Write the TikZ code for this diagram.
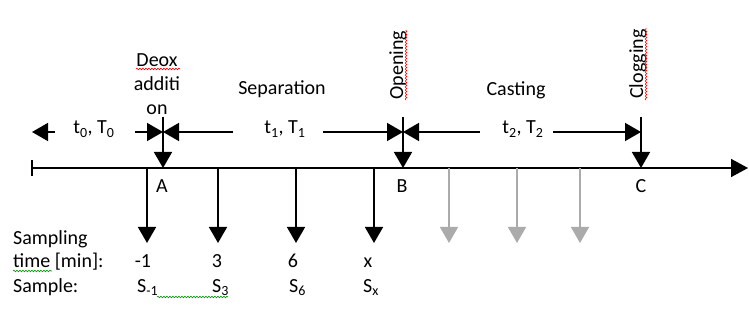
\documentclass[tikz,border=0pt]{standalone}
\usepackage{fontspec}
\setmainfont{Carlito}
\usetikzlibrary{arrows.meta,decorations.pathmorphing}
\begin{document}
\begin{tikzpicture}[x=1pt,y=-1pt,
  txt/.style={font=\fontsize{20}{24}\selectfont, inner sep=0pt},
  blk/.style={line width=1.6pt, -{Triangle[width=18pt,length=16pt]}},
  grayarrow/.style={line width=1.6pt, draw=black!33, -{Triangle[width=18pt,length=16pt,fill=black!33]}},
  event/.style={line width=1.6pt, -{Triangle[width=18pt,length=16pt]}},
  wavy/.style={line width=0.6pt, decorate, decoration={snake, segment length=3pt, amplitude=0.8pt}},
]
\useasboundingbox (0,0) rectangle (749,320);

% time axis
\coordinate (L) at (31,168);
\coordinate (R) at (748,168);
\draw[line width=1.6pt, {Bar[width=16pt]}-{Triangle[width=18pt,length=17pt]}] (L) -- (R);

% events on the axis
\coordinate (A) at (163,168);
\coordinate (B) at (403,168);
\coordinate (C) at (641,168);
\coordinate (Atop) at (163,117);
\coordinate (Btop) at (403,117);
\coordinate (Ctop) at (641,117);
\draw[event] (Atop) -- (A);
\draw[event] (Btop) -- (B);
\draw[event] (Ctop) -- (C);

\node[txt, anchor=base] (labA) at (162,193) {A};
\node[txt, anchor=base] (labB) at (402,193) {B};
\node[txt, anchor=base] (labC) at (641,193) {C};

% event names
\node[txt, align=center] (deox) at (157,84) {Deox\\additi\\on};
\node[txt, anchor=base, rotate=90] (opening) at (403,65) {Opening};
\node[txt, anchor=base, rotate=90] (clogging) at (643,64) {Clogging};
\node[txt, anchor=base] (separation) at (282,95) {Separation};
\node[txt, anchor=base] (casting) at (516,96) {Casting};

% durations between events
\coordinate (Ah) at (163,132);
\coordinate (Bh) at (403,132);
\coordinate (Ch) at (641,132);
\coordinate (h0a) at (55,132);
\coordinate (h0b) at (32,132);
\coordinate (h1) at (135,132);
\coordinate (h2) at (233,132);
\coordinate (h3) at (323,132);
\coordinate (h4) at (480,132);
\coordinate (h5) at (553,132);
\draw[blk] (h0a) -- (h0b);
\draw[blk] (h1) -- (Ah);
\draw[blk] (h2) -- (Ah);
\draw[blk] (h3) -- (Bh);
\draw[blk] (h4) -- (Bh);
\draw[blk] (h5) -- (Ch);
\node[txt, anchor=base] (d0) at (94,134) {t\textsubscript{0}, T\textsubscript{0}};
\node[txt, anchor=base] (d1) at (285,134) {t\textsubscript{1}, T\textsubscript{1}};
\node[txt, anchor=base] (d2) at (523,134) {t\textsubscript{2}, T\textsubscript{2}};

% sampling arrows
\coordinate (s1) at (147,168);
\coordinate (s2) at (218,168);
\coordinate (s3) at (296,168);
\coordinate (s4) at (374,168);
\coordinate (s1e) at (147,243);
\coordinate (s2e) at (218,243);
\coordinate (s3e) at (296,243);
\coordinate (s4e) at (374,243);
\draw[blk] (s1) -- (s1e);
\draw[blk] (s2) -- (s2e);
\draw[blk] (s3) -- (s3e);
\draw[blk] (s4) -- (s4e);

% later samples during casting
\coordinate (g1) at (449,168);
\coordinate (g2) at (517,168);
\coordinate (g3) at (580,168);
\coordinate (g1e) at (449,243);
\coordinate (g2e) at (517,243);
\coordinate (g3e) at (580,243);
\draw[grayarrow] (g1) -- (g1e);
\draw[grayarrow] (g2) -- (g2e);
\draw[grayarrow] (g3) -- (g3e);

% sampling table
\node[txt, anchor=base west] (rowa) at (13,244) {Sampling};
\node[txt, anchor=base west] (rowb) at (13,268) {time [min]:};
\node[txt, anchor=base west] (rowc) at (13,292) {Sample:};
\node[txt, anchor=base] (t1) at (143,268) {-1};
\node[txt, anchor=base] (t2) at (217,268) {3};
\node[txt, anchor=base] (t3) at (293,268) {6};
\node[txt, anchor=base] (t4) at (368,268) {x};
\node[txt, anchor=base west] (p1) at (137,292) {S\textsubscript{-1}};
\node[txt, anchor=base west] (p2) at (212,292) {S\textsubscript{3}};
\node[txt, anchor=base west] (p3) at (289,292) {S\textsubscript{6}};
\node[txt, anchor=base west] (p4) at (363,292) {S\textsubscript{x}};

% proofing marks
\draw[wavy, red] (136,69) -- (180,69);
\draw[wavy, red] (406,100) -- (406,30);
\draw[wavy, red] (646,100) -- (646,28);
\draw[wavy, green!60!black] (13,271) -- (52,271);
\draw[wavy, green!60!black] (157,297) -- (228,297);
\end{tikzpicture}
\end{document}
